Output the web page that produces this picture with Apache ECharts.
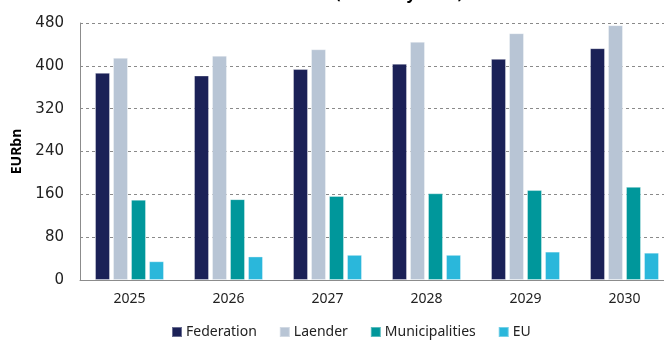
<!DOCTYPE html>
<html>
<head>
<meta charset="utf-8">
<script src="https://cdn.jsdelivr.net/npm/echarts@6/dist/echarts.min.js"></script>
<style>
  html, body { margin: 0; padding: 0; background: #fff; overflow: hidden; }
  #frame { width: 664px; height: 340px; overflow: hidden; }
  #chart { width: 674px; height: 340px; }
</style>
</head>
<body>
<div id="frame"><div id="chart"></div></div>
<script>
// Tax revenue by level of government, EUR bn
const years = ['2025', '2026', '2027', '2028', '2029', '2030'];
const federation = [387, 382, 394, 404, 413, 433];
const laender = [415, 419, 431, 445, 461, 476];
const municipalities = [150, 151, 157, 162, 168, 174];
const eu = [35, 44, 47, 47, 53, 51];
const yTicks = { min: 0, max: 480, step: 80 };

const FONT = '"Noto Sans", "Open Sans", sans-serif';

const seriesDefs = [
  { name: 'Federation', data: federation, color: '#1b2157' },
  { name: 'Laender', data: laender, color: '#b8c5d5' },
  { name: 'Municipalities', data: municipalities, color: '#00979b' },
  { name: 'EU', data: eu, color: '#2ab7db' }
];

const chart = echarts.init(document.getElementById('chart'), null, { renderer: 'canvas' });

chart.setOption({
  animation: false,
  backgroundColor: '#ffffff',
  title: {
    text: 'Tax revenue (EURbn by level)',
    left: 230,
    top: -19,
    textStyle: { fontFamily: FONT, fontSize: 16, fontWeight: 'bold', color: '#000' }
  },
  grid: { left: 80, top: 23, right: 0, bottom: 60, containLabel: false },
  legend: {
    top: 320,
    left: 166,
    itemWidth: 10,
    itemHeight: 10,
    itemGap: 22,
    icon: 'rect',
    textStyle: { fontFamily: FONT, fontSize: 14, color: '#222', padding: [0, 0, 0, -1] },
    data: seriesDefs.map(s => s.name)
  },
  xAxis: {
    type: 'category',
    data: years,
    axisLine: { show: true, lineStyle: { color: '#8c8c8c', width: 1 } },
    axisTick: { show: false },
    axisLabel: { fontFamily: FONT, fontSize: 14, color: '#222', margin: 12 }
  },
  yAxis: {
    type: 'value',
    min: yTicks.min,
    max: yTicks.max,
    interval: yTicks.step,
    name: 'EURbn',
    nameLocation: 'middle',
    nameGap: 54,
    nameRotate: 90,
    nameTextStyle: { fontFamily: FONT, fontSize: 14, fontWeight: 'bold', color: '#000' },
    axisLine: { show: true, lineStyle: { color: '#8c8c8c', width: 1 } },
    axisTick: { show: false },
    axisLabel: { fontFamily: '"DejaVu Sans", sans-serif', fontSize: 15, color: '#222', margin: 16 },
    splitLine: { show: true, lineStyle: { color: '#8a8a8a', type: [3, 3], width: 1 } }
  },
  series: seriesDefs.map(s => ({
    name: s.name,
    type: 'bar',
    data: s.data,
    barWidth: 15,
    barGap: '20%',
    itemStyle: { color: s.color, borderColor: 'rgba(255,255,255,0.35)', borderWidth: 1 }
  }))
});
</script>
</body>
</html>
